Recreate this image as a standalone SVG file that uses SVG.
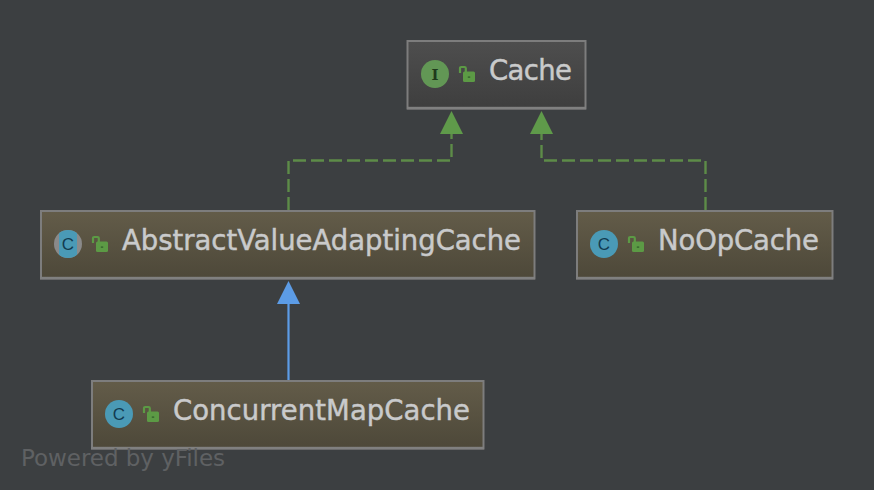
<svg xmlns="http://www.w3.org/2000/svg" width="874" height="490" viewBox="0 0 874 490">
<style>
.box{stroke:#7d7d7d;stroke-width:2}
.name{font-family:"DejaVu Sans",sans-serif;font-size:27.500px;fill:#c9cacb;stroke:#c9cacb;stroke-width:.45}
.cl{fill:#4a9ab6}
.glyph{font-family:"Liberation Sans",sans-serif;font-size:17px;fill:#123a50;text-anchor:middle}
.dash{fill:none;stroke:#5d8c48;stroke-width:2.400;stroke-dasharray:13 5}
.lock{fill:none;stroke:#5c9a45;stroke-width:2.200}
.lockb{fill:#5c9a45}
</style>
<defs>
<linearGradient id="gi" x1="0" y1="0" x2="0" y2="1"><stop offset="0" stop-color="#4e4e4e"/><stop offset="1" stop-color="#3e3e3e"/></linearGradient>
<linearGradient id="gc" x1="0" y1="0" x2="0" y2="1"><stop offset="0" stop-color="#635c49"/><stop offset="1" stop-color="#4d4839"/></linearGradient>
<g id="lk"><path class="lock" d="M1 7V2.200Q1 1 2.200 1H5.500Q6.800 1 6.800 2.200V6"/><rect class="lockb" x="4" y="5.500" width="12" height="10.500" rx="1.500"/><rect x="8.800" y="10.500" width="2.400" height="1.200" fill="#2f5a2a"/></g>
</defs>
<rect width="874" height="490" fill="#3c3f41"/>
<g id="connectors">
<path class="dash" d="M288.500 210V160.500H451.500V133"/>
<path class="dash" d="M705.500 210V160.500H541.500V133"/>
<path d="M288.500 380V303" fill="none" stroke="#5c9ce6" stroke-width="2.200"/>
<path d="M451.500 111L463 134H440Z" fill="#5f9a4a"/>
<path d="M541.500 111L553 134H530Z" fill="#5f9a4a"/>
<path d="M288.500 281L300 304H277Z" fill="#5c9ce6"/>
</g>
<g id="node-cache">
<rect class="box" x="407.500" y="41" width="178" height="67.500" fill="url(#gi)"/>
<rect x="407" y="106.800" width="179" height="2.600" fill="#808080"/>
<circle cx="435" cy="74" r="14" fill="#629755"/>
<text x="435" y="79.500" font-family="'DejaVu Serif',serif" font-size="15" font-weight="bold" fill="#1f3a1c" text-anchor="middle">I</text>
<use href="#lk" x="459" y="66"/>
<text class="name" x="489" y="79.500" textLength="83" lengthAdjust="spacing">Cache</text>
</g>
<g id="node-abstract">
<rect class="box" x="41" y="211" width="493.500" height="67.500" fill="url(#gc)"/>
<rect x="40" y="276.800" width="495" height="2.600" fill="#808080"/>
<circle cx="68" cy="244" r="14" fill="#8a8a8a"/>
<path d="M59 233.200A14 14 0 0 1 77 233.200V254.800A14 14 0 0 1 59 254.800Z" class="cl"/>
<text class="glyph" x="68" y="250">C</text>
<use href="#lk" x="92" y="236"/>
<text class="name" x="122" y="249.500" textLength="399" lengthAdjust="spacing">AbstractValueAdaptingCache</text>
</g>
<g id="node-noop">
<rect class="box" x="577" y="211" width="255.500" height="67.500" fill="url(#gc)"/>
<rect x="576" y="276.800" width="257" height="2.600" fill="#808080"/>
<circle cx="604" cy="244" r="14" class="cl"/>
<text class="glyph" x="604" y="250">C</text>
<use href="#lk" x="628" y="236"/>
<text class="name" x="658" y="249.500" textLength="161" lengthAdjust="spacing">NoOpCache</text>
</g>
<g id="node-concurrent">
<rect class="box" x="92" y="381" width="391.500" height="67.500" fill="url(#gc)"/>
<rect x="91" y="446.800" width="393" height="2.600" fill="#808080"/>
<circle cx="119" cy="414" r="14" class="cl"/>
<text class="glyph" x="119" y="420">C</text>
<use href="#lk" x="143" y="406"/>
<text class="name" x="173" y="419.500" textLength="297" lengthAdjust="spacing">ConcurrentMapCache</text>
</g>
<text x="21" y="466" font-family="'DejaVu Sans',sans-serif" font-size="23" fill="#5f6163" textLength="204" lengthAdjust="spacing">Powered by yFiles</text>
</svg>
